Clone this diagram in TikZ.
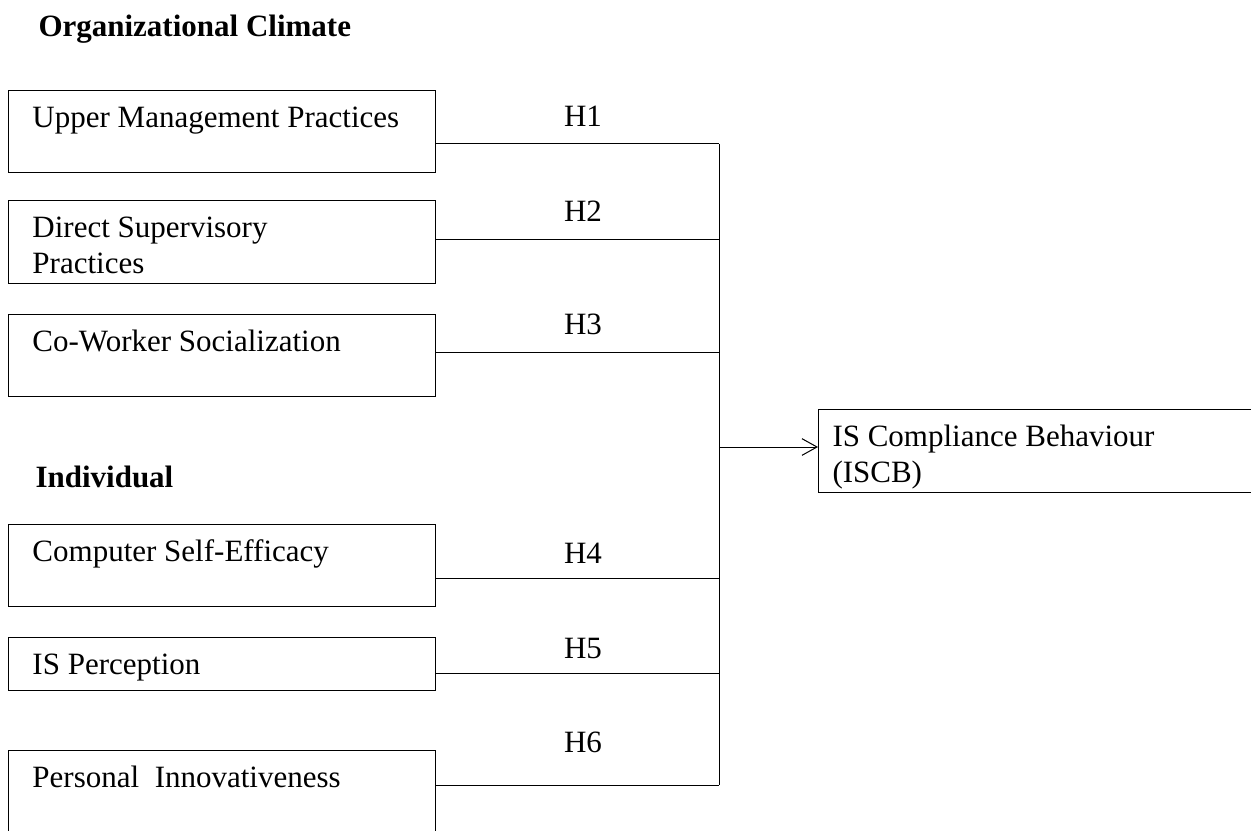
\documentclass[tikz,border=0pt]{standalone}
\usepackage{fontspec}
\setmainfont{Liberation Serif}
\usetikzlibrary{arrows.meta}
\tikzset{
  factor/.style  = {shape=rectangle, draw, anchor=north west, align=flush left,
                    text width=227.4pt, inner xsep=14.4pt, inner ysep=0pt,
                    text height=22pt},
  outcome/.style = {factor, text width=248pt, inner xsep=8.4pt},
  heading/.style = {font=\bfseries\fontsize{18.6}{22}\selectfont, anchor=base west,
                    inner sep=0pt},
  hyp/.style     = {anchor=base}
}

\begin{document}
\begin{tikzpicture}
  [
    x                 = 0.6pt,
    y                 = -0.6pt,
    line width        = 0.6pt,
    every node/.style = {font=\fontsize{18.6}{22}\selectfont}
  ]
  \clip (0,0) rectangle (1251,831);

  % group headings
  \node [heading] (org) at (38,37)  {Organizational Climate};
  \node [heading] (ind) at (35,487) {Individual};

  % factors
  \node [factor, text depth=27pt] (ump) at (8,90)  {Upper Management Practices};
  \node [factor, text depth=28pt] (dsp) at (8,200) {Direct Supervisory\\Practices};
  \node [factor, text depth=27pt] (cws) at (8,314) {Co-Worker Socialization};
  \node [factor, text depth=27pt] (cse) at (8,524) {Computer Self-Efficacy};
  \node [factor, text depth=10pt] (isp) at (8,637) {IS Perception};
  \node [factor, text depth=28pt] (pin) at (8,750) {Personal\ \ Innovativeness};

  \node [outcome, text depth=28pt] (iscb) at (818,409) {IS Compliance Behaviour\\(ISCB)};

  % junctions on the collecting line
  \coordinate (j1) at (719,144);
  \coordinate (j2) at (719,239);
  \coordinate (j3) at (719,352);
  \coordinate (j4) at (719,578);
  \coordinate (j5) at (719,673);
  \coordinate (j6) at (719,785);
  \coordinate (jx) at (719,447);

  \foreach \b/\j in {ump/j1, dsp/j2, cws/j3, cse/j4, isp/j5, pin/j6}
    \draw (\b.east |- \j) -- (\j);
  \draw (j1) -- (j6);
  \draw [-{Straight Barb[length=9pt,width=10pt]}] (jx) -- (iscb.west |- jx);

  % hypotheses
  \node [hyp] (h1) at (583,127) {H1};
  \node [hyp] (h2) at (583,221) {H2};
  \node [hyp] (h3) at (583,334) {H3};
  \node [hyp] (h4) at (583,563) {H4};
  \node [hyp] (h5) at (583,658) {H5};
  \node [hyp] (h6) at (583,752) {H6};
\end{tikzpicture}
\end{document}
